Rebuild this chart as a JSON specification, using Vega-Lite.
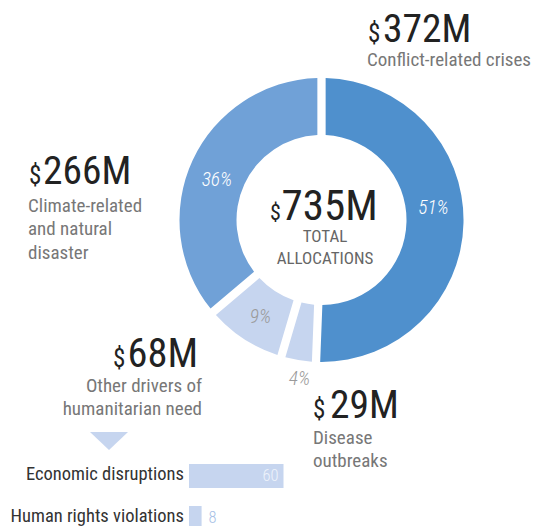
{
  "$schema": "https://vega.github.io/schema/vega-lite/v6.json",
  "padding": 0,
  "spacing": 0,
  "bounds": "flush",
  "background": "white",
  "config": {"view": {"stroke": null}, "font": "Roboto Condensed"},
  "datasets": {
    "drivers": [
      {"cat": "Conflict-related crises", "value": 372, "pct": "51%", "rank": 1, "amount": "372M", "desc": ["Conflict-related crises"]},
      {"cat": "Disease outbreaks", "value": 29, "pct": "4%", "rank": 2, "amount": "29M", "desc": ["Disease", "outbreaks"]},
      {"cat": "Other drivers of humanitarian need", "value": 68, "pct": "9%", "rank": 3, "amount": "68M", "desc": ["Other drivers of", "humanitarian need"]},
      {"cat": "Climate-related and natural disaster", "value": 266, "pct": "36%", "rank": 4, "amount": "266M", "desc": ["Climate-related", "and natural", "disaster"]}
    ],
    "total": [{"amount": "735M", "label": ["TOTAL", "ALLOCATIONS"]}],
    "other": [
      {"driver": "Economic disruptions", "value": 60},
      {"driver": "Human rights violations", "value": 8}
    ]
  },
  "vconcat": [
    {
      "width": 543,
      "height": 440,
      "data": {"name": "drivers"},
      "layer": [
        {
          "mark": {"type": "arc", "innerRadius": 85, "outerRadius": 142, "padAngle": 0.05, "x": 321.5, "y": 220},
          "encoding": {
            "theta": {"field": "value", "type": "quantitative", "stack": true},
            "order": {"field": "rank", "type": "quantitative"},
            "color": {"field": "cat", "type": "nominal", "legend": null,
              "scale": {"domain": ["Conflict-related crises", "Disease outbreaks", "Other drivers of humanitarian need", "Climate-related and natural disaster"],
                        "range": ["#4f90cd", "#c6d5ef", "#c6d5ef", "#70a1d7"]}}
          }
        },
        {
          "mark": {"type": "text", "radius": 112, "x": 321.5, "y": 220, "dy": -14, "fontSize": 19.5, "fontStyle": "italic", "fontWeight": 300, "align": "center", "baseline": "middle", "color": "#ffffff"},
          "encoding": {
            "theta": {"field": "value", "type": "quantitative", "stack": true},
            "order": {"field": "rank", "type": "quantitative"},
            "text": {"condition": {"test": "datum.rank !== 1", "value": ""}, "field": "pct", "type": "nominal"}
          }
        },
        {
          "mark": {"type": "text", "radius": 112, "x": 321.5, "y": 220, "dx": -3, "dy": 7.5, "fontSize": 19.5, "fontStyle": "italic", "fontWeight": 300, "align": "center", "baseline": "middle", "color": "#ffffff"},
          "encoding": {
            "theta": {"field": "value", "type": "quantitative", "stack": true},
            "order": {"field": "rank", "type": "quantitative"},
            "text": {"condition": {"test": "datum.rank !== 4", "value": ""}, "field": "pct", "type": "nominal"}
          }
        },
        {
          "mark": {"type": "text", "radius": 112, "x": 321.5, "y": 220, "dy": 3.5, "fontSize": 19.5, "fontStyle": "italic", "fontWeight": 300, "align": "center", "baseline": "middle", "color": "#9a9a9a"},
          "encoding": {
            "theta": {"field": "value", "type": "quantitative", "stack": true},
            "order": {"field": "rank", "type": "quantitative"},
            "text": {"condition": {"test": "datum.rank !== 3", "value": ""}, "field": "pct", "type": "nominal"}
          }
        },
        {
          "mark": {"type": "text", "radius": 161, "x": 321.5, "y": 220, "dx": 4, "fontSize": 19.5, "fontStyle": "italic", "fontWeight": 300, "align": "center", "baseline": "middle", "color": "#9a9a9a"},
          "encoding": {
            "theta": {"field": "value", "type": "quantitative", "stack": true},
            "order": {"field": "rank", "type": "quantitative"},
            "text": {"condition": {"test": "datum.rank !== 2", "value": ""}, "field": "pct", "type": "nominal"}
          }
        },
        {
          "transform": [{"filter": "datum.rank === 1"}],
          "layer": [
            {"mark": {"type": "text", "x": 368, "y": 42, "align": "left", "baseline": "alphabetic", "fontSize": 25, "color": "#222222"}, "encoding": {"text": {"value": "$"}}},
            {"mark": {"type": "text", "x": 383, "y": 42, "align": "left", "baseline": "alphabetic", "fontSize": 39.5, "color": "#222222"}, "encoding": {"text": {"field": "amount", "type": "nominal"}}},
            {"mark": {"type": "text", "x": 367, "y": 66, "align": "left", "baseline": "alphabetic", "fontSize": 19, "lineHeight": 23.5, "color": "#777777"}, "encoding": {"text": {"field": "desc", "type": "nominal"}}}
          ]
        },
        {
          "transform": [{"filter": "datum.rank === 4"}],
          "layer": [
            {"mark": {"type": "text", "x": 29, "y": 184, "align": "left", "baseline": "alphabetic", "fontSize": 25, "color": "#222222"}, "encoding": {"text": {"value": "$"}}},
            {"mark": {"type": "text", "x": 43, "y": 184, "align": "left", "baseline": "alphabetic", "fontSize": 39.5, "color": "#222222"}, "encoding": {"text": {"field": "amount", "type": "nominal"}}},
            {"mark": {"type": "text", "x": 28, "y": 211.5, "align": "left", "baseline": "alphabetic", "fontSize": 19, "lineHeight": 23.5, "color": "#777777"}, "encoding": {"text": {"field": "desc", "type": "nominal"}}}
          ]
        },
        {
          "transform": [{"filter": "datum.rank === 3"}],
          "layer": [
            {"mark": {"type": "text", "x": 113, "y": 367, "align": "left", "baseline": "alphabetic", "fontSize": 25, "color": "#222222"}, "encoding": {"text": {"value": "$"}}},
            {"mark": {"type": "text", "x": 127.5, "y": 367, "align": "left", "baseline": "alphabetic", "fontSize": 40.5, "color": "#222222"}, "encoding": {"text": {"field": "amount", "type": "nominal"}}},
            {"mark": {"type": "text", "x": 202, "y": 391.5, "align": "right", "baseline": "alphabetic", "fontSize": 19, "lineHeight": 23.5, "color": "#777777"}, "encoding": {"text": {"field": "desc", "type": "nominal"}}},
            {"mark": {"type": "point", "shape": "M-1,-0.47L1,-0.47L0,0.47Z", "size": 1444, "filled": true, "opacity": 1, "color": "#c6d5ef", "x": 109, "y": 441, "strokeWidth": 0}, "encoding": {}}
          ]
        },
        {
          "transform": [{"filter": "datum.rank === 2"}],
          "layer": [
            {"mark": {"type": "text", "x": 313, "y": 418, "align": "left", "baseline": "alphabetic", "fontSize": 25, "color": "#222222"}, "encoding": {"text": {"value": "$"}}},
            {"mark": {"type": "text", "x": 330, "y": 418, "align": "left", "baseline": "alphabetic", "fontSize": 39.5, "color": "#222222"}, "encoding": {"text": {"field": "amount", "type": "nominal"}}},
            {"mark": {"type": "text", "x": 313, "y": 443.5, "align": "left", "baseline": "alphabetic", "fontSize": 19, "lineHeight": 23.5, "color": "#777777"}, "encoding": {"text": {"field": "desc", "type": "nominal"}}}
          ]
        },
        {
          "data": {"name": "total"},
          "layer": [
            {"mark": {"type": "text", "x": 270, "y": 220, "align": "left", "baseline": "alphabetic", "fontSize": 22, "color": "#222222"}, "encoding": {"text": {"value": "$"}}},
            {"mark": {"type": "text", "x": 281.5, "y": 220, "align": "left", "baseline": "alphabetic", "fontSize": 43, "color": "#222222"}, "encoding": {"text": {"field": "amount", "type": "nominal"}}},
            {"mark": {"type": "text", "x": 325, "y": 242, "align": "center", "baseline": "alphabetic", "fontSize": 17, "lineHeight": 21.6, "color": "#666666"}, "encoding": {"text": {"field": "label", "type": "nominal"}}}
          ]
        }
      ]
    },
    {
      "width": 543,
      "height": 86,
      "data": {"name": "other"},
      "encoding": {
        "y": {"field": "driver", "type": "nominal", "sort": null, "axis": null,
              "scale": {"range": [24, 90], "paddingInner": 0.4286, "paddingOuter": 0}}
      },
      "layer": [
        {
          "mark": {"type": "bar", "color": "#c6d5ef", "clip": true},
          "encoding": {
            "x": {"field": "value", "type": "quantitative", "axis": null, "scale": {"domain": [-120, 224.76], "nice": false, "zero": false}},
            "x2": {"datum": 0}
          }
        },
        {
          "mark": {"type": "text", "align": "right", "baseline": "middle", "dx": -5, "dy": -2, "fontSize": 18.5, "color": "#333333"},
          "encoding": {
            "x": {"datum": 0, "type": "quantitative"},
            "text": {"field": "driver", "type": "nominal"}
          }
        },
        {
          "transform": [{"filter": "datum.value > 20"}],
          "mark": {"type": "text", "baseline": "middle", "align": "right", "dx": -5, "fontSize": 16.5, "fontWeight": 300, "color": "#eef3fb"},
          "encoding": {
            "x": {"field": "value", "type": "quantitative"},
            "text": {"field": "value", "type": "quantitative"}
          }
        },
        {
          "transform": [{"filter": "datum.value <= 20"}],
          "mark": {"type": "text", "baseline": "middle", "align": "left", "dx": 7, "fontSize": 16.5, "fontWeight": 300, "color": "#a7bfe6"},
          "encoding": {
            "x": {"field": "value", "type": "quantitative"},
            "text": {"field": "value", "type": "quantitative"}
          }
        }
      ]
    }
  ]
}
